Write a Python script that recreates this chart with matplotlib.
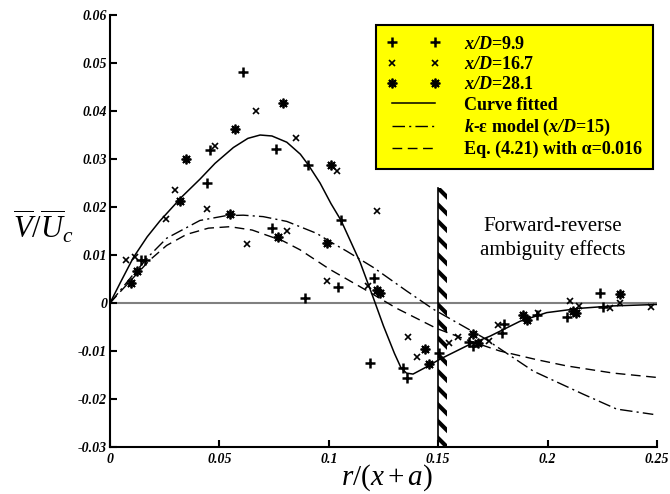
import matplotlib
matplotlib.use('Agg')
import matplotlib.pyplot as plt
from matplotlib.patches import Rectangle

plt.rcParams['font.family'] = 'Liberation Serif'
plt.rcParams['mathtext.fontset'] = 'custom'
plt.rcParams['mathtext.rm'] = 'Liberation Serif'
plt.rcParams['mathtext.it'] = 'Liberation Serif:italic'
plt.rcParams['mathtext.bf'] = 'Liberation Serif:bold'
plt.rcParams['mathtext.bfit'] = 'Liberation Serif:italic:bold'
plt.rcParams['hatch.linewidth'] = 3

# measured points, x/D = 9.9 (+)
plus_x = [0.0142, 0.0160, 0.0443, 0.0457, 0.0608, 0.0757, 0.0906, 0.0740, 0.0891, 0.1042,
          0.1056, 0.1207, 0.1188, 0.1340, 0.1356, 0.1505, 0.1641, 0.1659, 0.1801, 0.1790,
          0.1950, 0.2087, 0.2239, 0.2255]
plus_y = [0.0089, 0.0089, 0.0250, 0.0319, 0.0481, 0.0321, 0.0288, 0.0157, 0.0010, 0.0033,
          0.0172, 0.0053, -0.0124, -0.0135, -0.0157, -0.0105, -0.0082, -0.0090, -0.0044, -0.0062,
          -0.0024, -0.0029, 0.0021, -0.0009]

# x/D = 16.7 (x)
cross_x = [0.0071, 0.0112, 0.0254, 0.0298, 0.0441, 0.0482, 0.0667, 0.0852, 0.0625, 0.0809,
           0.0994, 0.1036, 0.1220, 0.1181, 0.1363, 0.1405, 0.1549, 0.1592, 0.1773, 0.1733,
           0.1908, 0.1958, 0.2104, 0.2145, 0.2287, 0.2331, 0.2473]
cross_y = [0.0089, 0.0096, 0.0175, 0.0236, 0.0196, 0.0328, 0.0400, 0.0344, 0.0122, 0.0149,
           0.0045, 0.0275, 0.0191, 0.0035, -0.0070, -0.0113, -0.0084, -0.0071, -0.0046, -0.0079,
           -0.0034, -0.0021, 0.0005, -0.0006, -0.0010, -0.0001, -0.0008]

# x/D = 28.1 (*)
star_x = [0.0098, 0.0122, 0.0321, 0.0346, 0.0570, 0.0792, 0.0547, 0.0769, 0.1011, 0.0990,
          0.1218, 0.1234, 0.1440, 0.1459, 0.1661, 0.1683, 0.1886, 0.1906, 0.2117, 0.2132, 0.2330]
star_y = [0.0041, 0.0067, 0.0213, 0.0301, 0.0363, 0.0416, 0.0186, 0.0138, 0.0288, 0.0126,
          0.0028, 0.0020, -0.0095, -0.0128, -0.0065, -0.0084, -0.0025, -0.0035, -0.0017, -0.0021, 0.0018]

# curve fitted
fit_x = [0, 0.005, 0.0107, 0.0170, 0.0228, 0.0330, 0.0411, 0.0480, 0.0564, 0.0630, 0.0686,
         0.0740, 0.0808, 0.0870, 0.0906, 0.0960, 0.1010, 0.1056, 0.1100, 0.1143, 0.1204,
         0.1250, 0.1300, 0.1330, 0.1355, 0.1385, 0.1447, 0.1508, 0.1645, 0.1737, 0.1874,
         0.1996, 0.2148, 0.2300, 0.2500]
fit_y = [0, 0.0045, 0.0095, 0.0138, 0.0171, 0.0222, 0.0258, 0.0291, 0.0324, 0.0343, 0.0350,
         0.0348, 0.0335, 0.0310, 0.0288, 0.0250, 0.0207, 0.0172, 0.0128, 0.0085, 0.0010,
         -0.0048, -0.0105, -0.0135, -0.0146, -0.0148, -0.0133, -0.0117, -0.0086, -0.0069, -0.0038,
         -0.0020, -0.0011, -0.0006, -0.0003]

# k-epsilon model
ke_x = [0, 0.005, 0.0107, 0.0183, 0.0259, 0.0411, 0.0530, 0.0609, 0.0700, 0.0808, 0.0945,
        0.1005, 0.1082, 0.1204, 0.1356, 0.1478, 0.1706, 0.1935, 0.2163, 0.2316, 0.2483]
ke_y = [0, 0.0028, 0.0060, 0.0100, 0.0135, 0.0172, 0.0182, 0.0183, 0.0180, 0.0170, 0.0145,
        0.0128, 0.0108, 0.0074, 0.0025, -0.0013, -0.0072, -0.0142, -0.0190, -0.0221, -0.0232]

# Eq. (4.21)
eq_x = [0, 0.005, 0.0107, 0.0183, 0.0259, 0.0350, 0.0450, 0.0548, 0.0650, 0.0792, 0.0868,
        0.1005, 0.1158, 0.1310, 0.1493, 0.1650, 0.1782, 0.1950, 0.2087, 0.2300, 0.2498]
eq_y = [0, 0.0025, 0.0053, 0.0090, 0.0120, 0.0143, 0.0156, 0.0159, 0.0152, 0.0129, 0.0111,
        0.0070, 0.0030, -0.0011, -0.0053, -0.0080, -0.0100, -0.0118, -0.0131, -0.0146, -0.0155]

xticks = [0, 0.05, 0.1, 0.15, 0.2, 0.25]
xticklabels = ['0', '0.05', '0.1', '0.15', '0.2', '0.25']
yticks = [-0.03, -0.02, -0.01, 0, 0.01, 0.02, 0.03, 0.04, 0.05, 0.06]
yticklabels = ['-0.03', '-0.02', '-0.01', '0', '0.01', '0.02', '0.03', '0.04', '0.05', '0.06']

fig = plt.figure(figsize=(6.7, 4.94), dpi=100)
ax = fig.add_axes([0.1642, 0.0951, 0.8164, 0.8745])

ax.axhline(0, color='#808080', lw=1.5, zorder=1)

ax.plot(plus_x, plus_y, ls='none', marker='+', ms=7, mew=1.8, color='black',
        label=r'$\mathbfit{x/D}$=9.9')
ax.plot(cross_x, cross_y, ls='none', marker='x', ms=5, mew=1.2, color='black',
        label=r'$\mathbfit{x/D}$=16.7')
ax.plot(star_x, star_y, ls='none', marker=(8, 2, 0), ms=7, mew=1.3, color='black',
        label=r'$\mathbfit{x/D}$=28.1')
ax.plot(fit_x, fit_y, color='black', lw=1.1, label='Curve fitted')
ax.plot(ke_x, ke_y, color='black', lw=1.0, dashes=(9, 3, 1.5, 3),
        label=r'$\mathbfit{k}$-ε model ($\mathbfit{x/D}$=15)')
ax.plot(eq_x, eq_y, color='black', lw=1.0, dashes=(7, 4),
        label='Eq. (4.21) with α=0.016')

# forward-reverse ambiguity boundary
bar_x, bar_w, bar_top = 0.1497, 0.0041, 0.024
ax.add_patch(Rectangle((bar_x, -0.03), bar_w, bar_top + 0.03, hatch='\\\\',
                       fill=False, edgecolor='black', linewidth=0, zorder=3))
ax.plot([bar_x, bar_x], [-0.03, bar_top], color='black', lw=1.2, zorder=3)

ax.text(0.2025, 0.0135, 'Forward-reverse\nambiguity effects', ha='center', va='center',
        fontsize=15, linespacing=1.25)

ax.set_xlim(0, 0.25)
ax.set_ylim(-0.03, 0.06)
ax.set_xticks(xticks)
ax.set_xticklabels(xticklabels, fontstyle='italic', fontweight='bold', fontsize=10)
ax.set_yticks(yticks)
ax.set_yticklabels(yticklabels, fontstyle='italic', fontweight='bold', fontsize=10)
ax.tick_params(direction='in', length=5, width=1.5)
ax.tick_params(axis='y', pad=2)
ax.tick_params(axis='x', pad=4)
for s in ['top', 'right']:
    ax.spines[s].set_visible(False)
for s in ['left', 'bottom']:
    ax.spines[s].set_linewidth(1.5)

ax.set_ylabel(r'$\overline{V}/\overline{U}_c$', rotation=0, fontsize=22, ha='center', va='center')
ax.yaxis.set_label_coords(-0.122, 0.509)
ax.set_xlabel(r'$r/(x+a)$', fontsize=21, va='center')
ax.xaxis.set_label_coords(0.506, -0.072)

leg = ax.legend(loc='upper left', bbox_to_anchor=(0.486, 0.977), borderaxespad=0,
                fancybox=False, facecolor='yellow', edgecolor='black', framealpha=1,
                prop={'weight': 'bold', 'size': 13}, handlelength=3.0, handletextpad=1.3,
                labelspacing=0.18, borderpad=0.6, numpoints=2)
leg.get_frame().set_linewidth(1.5)

fig.savefig('out.png', dpi=100)
